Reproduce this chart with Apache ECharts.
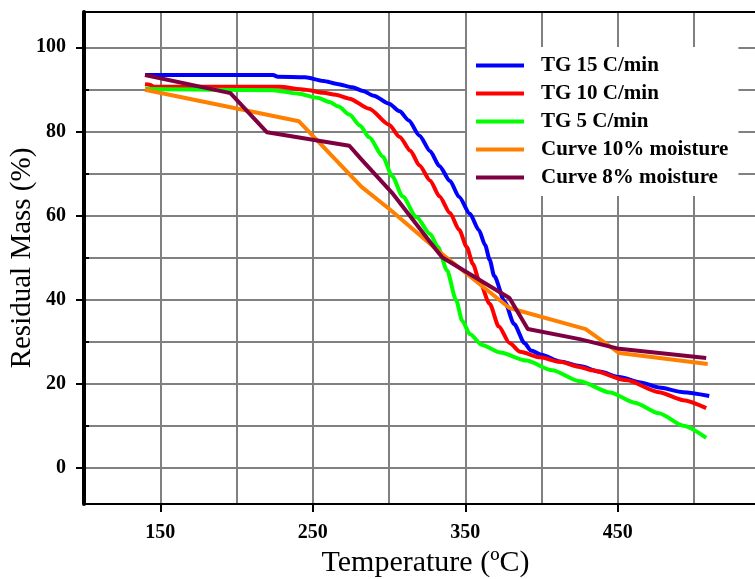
<!DOCTYPE html>
<html>
<head>
<meta charset="utf-8">
<script src="https://cdn.jsdelivr.net/npm/echarts@6/dist/echarts.min.js"></script>
<style>
html, body { margin: 0; padding: 0; background: #fff; }
#chart { width: 755px; height: 579px; }
</style>
</head>
<body>
<div id="chart"></div>
<script>
// axis ticks / grid
var xTicks = [150, 250, 350, 450];
var xGrid = [150, 200, 250, 300, 350, 400, 450, 500];
var yTicks = [0, 20, 40, 60, 80, 100];
var yGrid = [0, 10, 20, 30, 40, 50, 60, 70, 80, 90, 100];
var yMinor = [10, 30, 50, 70, 90];

var names = ['TG 15 C/min', 'TG 10 C/min', 'TG 5 C/min', 'Curve 10% moisture', 'Curve 8% moisture'];
var colors = ['#0000ff', '#ff0000', '#00ff00', '#ff8000', '#7f0040'];

// [temperature, residual mass]
var tg15 = [[140, 93.4], [224, 93.4], [227, 93.0], [245, 92.9], [257, 92.0], [266, 91.3], [276, 90.5],
    [283, 89.6], [290, 88.5], [300, 86.6], [307, 84.8], [313, 82.6], [320, 79.0], [327, 75.3], [333, 71.8],
    [340, 68.2], [346, 64.4], [353, 60.4], [359, 56.5], [363, 53.0], [366, 49.5], [369, 45.6], [376, 39.4],
    [382, 34.2], [389, 29.6], [393, 27.9], [400, 26.9], [412, 25.3], [425, 24.2], [438, 22.9], [451, 21.6],
    [465, 20.3], [477, 19.1], [493, 18.0], [510, 17.1]];
var tg10 = [[140, 91.2], [143, 91.1], [146, 90.6], [228, 90.6], [245, 89.9], [257, 89.2], [265, 88.7],
    [274, 87.8], [287, 85.4], [300, 81.6], [307, 78.7], [314, 75.4], [320, 71.9], [327, 68.3], [333, 64.6],
    [340, 60.6], [346, 56.6], [351, 52.5], [355, 48.5], [359, 44.7], [366, 39.0], [372, 33.6], [379, 29.7],
    [386, 27.6], [399, 26.3], [412, 25.2], [425, 24.0], [433, 23.2], [456, 20.8], [477, 18.0], [493, 16.1],
    [508, 14.2]];
var tg5 = [[140, 90.1], [224, 89.8], [240, 89.0], [253, 88.0], [261, 87.0], [267, 85.9], [274, 84.0],
    [281, 81.4], [287, 78.6], [296, 74.0], [302, 69.4], [309, 64.5], [318, 59.6], [327, 55.6], [332, 52.6],
    [338, 47.0], [344, 39.9], [348, 35.0], [353, 31.8], [361, 29.2], [373, 27.4], [390, 25.5], [407, 23.2],
    [425, 20.6], [445, 17.9], [461, 15.5], [477, 13.0], [493, 10.0], [508, 7.1]];
var curve10 = [[140, 89.9], [241, 82.4], [282, 66.8], [300, 61.6], [333, 51.4], [379, 38.0],
    [429, 33.0], [451, 27.3], [509, 24.7]];
var curve8 = [[140, 93.4], [196, 89.1], [220, 79.8], [274, 76.6], [281, 73.7], [302, 65.4],
    [331, 51.8], [335, 50.0], [379, 40.4], [391, 33.0], [425, 30.6], [451, 28.3], [508, 26.1]];

var serif = "'Liberation Serif', 'Times New Roman', serif";
var lineSets = [tg15, tg10, tg5, curve10, curve8];

var series = [];
for (var i = 0; i < lineSets.length; i++) {
    series.push({
        name: names[i],
        type: 'line',
        data: lineSets[i],
        symbol: 'none',
        showSymbol: false,
        smooth: i < 3 ? 0.25 : false,
        smoothMonotone: 'x',
        color: colors[i],
        lineStyle: { color: colors[i], width: 4 }
    });
}

var option = {
    backgroundColor: '#fff',
    animation: false,
    grid: { left: 84, right: 0, top: 12, bottom: 75, containLabel: false, outerBoundsMode: 'none' },
    legend: {
        orient: 'vertical',
        left: 467,
        top: 47,
        data: names,
        icon: 'rect',
        backgroundColor: '#fff',
        padding: [8, 10, 8, 9],
        itemWidth: 48,
        itemHeight: 4,
        itemGap: 7,
        textStyle: {
            fontFamily: serif, fontWeight: 'bold', fontSize: 21, color: '#000',
            lineHeight: 20, padding: [0, 0, 0, 12]
        }
    },
    xAxis: [
        {
            type: 'value', min: 100, max: 540, position: 'bottom',
            name: 'Temperature (ºC)', nameLocation: 'middle', nameGap: 42,
            nameTextStyle: { fontFamily: serif, fontSize: 30, color: '#000', padding: [0, 0, 0, 12] },
            axisLine: { show: true, onZero: false, lineStyle: { color: '#000', width: 2 } },
            axisTick: { show: true, customValues: xTicks, length: 8, lineStyle: { color: '#000', width: 2 } },
            axisLabel: { customValues: xTicks, margin: 19, fontFamily: serif, fontWeight: 'bold', fontSize: 20, color: '#000' },
            splitLine: { show: false }
        },
        {
            type: 'value', min: 100, max: 540, position: 'bottom',
            axisLine: { show: false, onZero: false },
            axisTick: { show: false, customValues: xGrid },
            axisLabel: { show: false },
            splitLine: { show: true, lineStyle: { color: '#808080', width: 2 } }
        },
        {
            type: 'value', min: 100, max: 540, position: 'top',
            axisLine: { show: true, onZero: false, lineStyle: { color: '#000', width: 2 } },
            axisTick: { show: false },
            axisLabel: { show: false },
            splitLine: { show: false }
        }
    ],
    yAxis: [
        {
            type: 'value', min: -8.6, max: 108.4, position: 'left',
            name: 'Residual Mass (%)', nameLocation: 'middle', nameGap: 47,
            nameMoveOverlap: false,
            nameTextStyle: { fontFamily: serif, fontSize: 29, color: '#000' },
            axisLine: { show: true, onZero: false, lineStyle: { color: '#000', width: 4 } },
            axisTick: { show: true, customValues: yTicks, length: 8, lineStyle: { color: '#000', width: 2 } },
            axisLabel: { customValues: yTicks, margin: 18, fontFamily: serif, fontWeight: 'bold', fontSize: 20, color: '#000' },
            splitLine: { show: false }
        },
        {
            type: 'value', min: -8.6, max: 108.4, position: 'left',
            axisLine: { show: false, onZero: false },
            axisTick: { show: false, customValues: yGrid },
            axisLabel: { show: false },
            splitLine: { show: true, lineStyle: { color: '#808080', width: 2 } }
        },
        {
            type: 'value', min: -8.6, max: 108.4, position: 'left',
            axisLine: { show: false, onZero: false },
            axisTick: { show: true, inside: true, length: 5, customValues: yMinor, lineStyle: { color: '#000', width: 2 } },
            axisLabel: { show: false },
            splitLine: { show: false }
        }
    ],
    series: series
};

var myChart = echarts.init(document.getElementById('chart'));
myChart.setOption(option);
</script>
</body>
</html>
